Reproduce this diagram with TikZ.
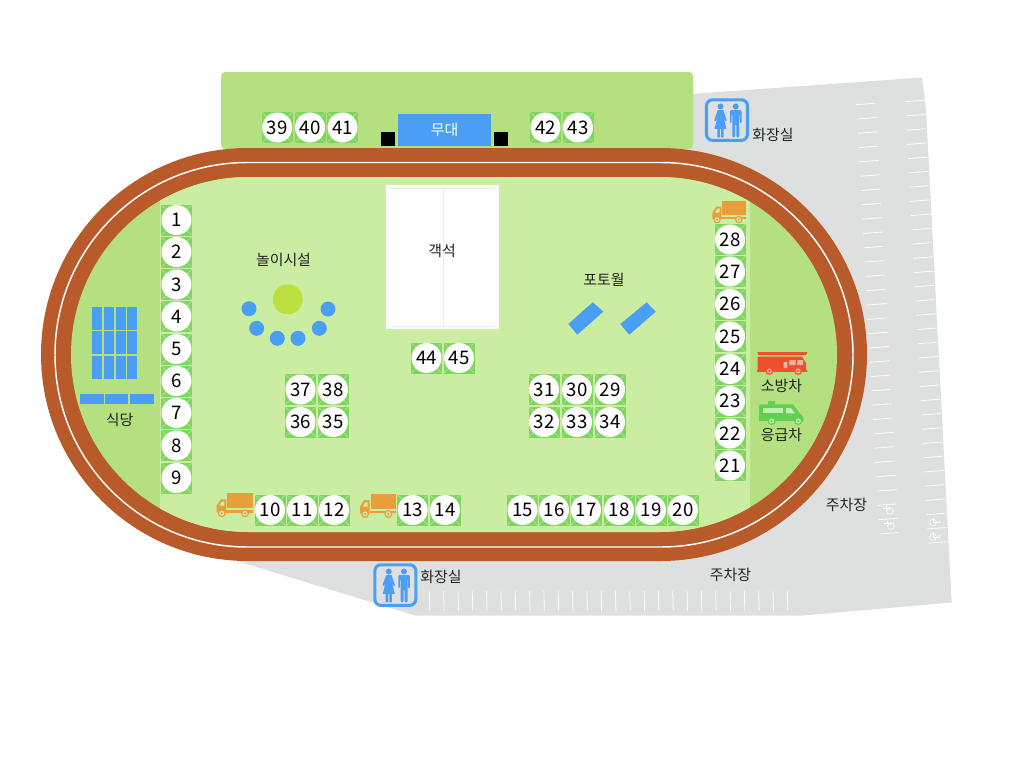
\documentclass[tikz,border=0pt]{standalone}
\usepackage{fontspec}
\setmainfont{Noto Sans CJK KR}
\definecolor{track}{HTML}{B85A2A}
\definecolor{fieldL}{HTML}{CBEDA2}
\definecolor{fieldD}{HTML}{B5E07F}
\definecolor{lot}{HTML}{DEE0E0}
\definecolor{seatG}{HTML}{7FD65E}
\definecolor{seatX}{HTML}{B5E8A0}
\definecolor{iconB}{HTML}{4A9FF5}
\definecolor{truckO}{HTML}{E89F3A}
\definecolor{fireR}{HTML}{EE4F2D}
\definecolor{ambG}{HTML}{5FD04F}
\definecolor{labelK}{HTML}{222222}
\definecolor{ballG}{HTML}{BCE03F}
\definecolor{paleF}{HTML}{F6B49E}
\definecolor{paleA}{HTML}{C4EDB4}
\tikzset{
  x=0.75pt,y=-0.75pt,
  numdisc/.style={circle,fill=white,minimum size=22.5pt,inner sep=0pt,font=\fontsize{14}{14}\selectfont,text=black},
  lab/.style={font=\fontsize{11.2}{11.2}\selectfont,text=labelK,inner sep=0pt},
  park/.style={white,line width=0.6pt,opacity=0.9},
  seatpic/.pic={
    \fill[seatG] (-15.5,-15.5) rectangle (15.5,15.5);
    \draw[seatX,line width=0.4pt] (-15.5,-15.5) -- (15.5,15.5) (-15.5,15.5) -- (15.5,-15.5);
  },
  truckpic/.pic={
    \fill[truckO] (0,0) rectangle (25.4,15);
    \fill[truckO] (-1,17) rectangle (25.4,19.3);
    \fill[truckO,even odd rule] (-1,19.3) -- (-10.6,19.3) -- (-10.6,12.5) -- (-6.5,6) -- (-1,6) -- cycle (-3,8) -- (-5.5,8) -- (-8,12.5) -- (-3,12.5) -- cycle;
    \foreach \wx in {-5.6,17.7}{
      \fill[truckO] (\wx,20) circle[radius=4];
      \fill[fieldL] (\wx,20) circle[radius=2.6];
      \fill[truckO] (\wx,20) circle[radius=1.2];
    }
  },
  wcleft/.pic={
    \draw[white,line width=0.45pt] (2,1) circle[radius=3.4];
    \draw[white,line width=0.45pt] (-5,-2) -- (1,-2) -- (1,0) (-2,-4) -- (-2,-2);
  },
  wcright/.pic={
    \draw[white,line width=0.45pt] (-1,0) circle[radius=3.4];
    \draw[white,line width=0.45pt] (-1,-5) -- (-1,0) -- (5,0) -- (5,-2);
  },
  toiletpic/.pic={
    \draw[iconB,line width=2.3pt,rounded corners=4.5pt] (1.5,1.5) rectangle (42.5,42);
    \fill[iconB] (15.5,8.2) circle[radius=3];
    \fill[iconB] (12.8,11.8) -- (18.2,11.8) -- (21.8,22) -- (20.2,22.7) -- (18.3,18) -- (21.5,30.5) -- (18.6,30.5) -- (18.6,39) -- (16,39) -- (16,30.5) -- (15,30.5) -- (15,39) -- (12.4,39) -- (12.4,30.5) -- (9.5,30.5) -- (12.7,18) -- (10.8,22.7) -- (9.2,22) -- cycle;
    \fill[iconB] (30.7,8.2) circle[radius=3];
    \fill[iconB,rounded corners=0.8pt] (25,11.8) -- (36.5,11.8) -- (36.5,25) -- (34.9,25) -- (34.9,16) -- (34.2,16) -- (34.2,39) -- (31.3,39) -- (31.3,26) -- (30.2,26) -- (30.2,39) -- (27.3,39) -- (27.3,16) -- (26.6,16) -- (26.6,25) -- (25,25) -- cycle;
  }
}
\begin{document}
\begin{tikzpicture}
\useasboundingbox (0,0) rectangle (1024,768);
\fill[white] (0,0) rectangle (1024,768);
% parking lot
\fill[lot] (237,561) -- (415,615.5) -- (803,615.5) -- (951.7,602.5) -- (926,110) -- (922,77.5) -- (690,94) -- (500,300) -- cycle;
% parking lines
\foreach \i in {0,...,30}{
  \pgfmathsetmacro{\ax}{856+0.7767*\i}
  \pgfmathsetmacro{\ay}{104.7+14.31*\i}
  \draw[park] (\ax,\ay) -- ++(19.6,-1.5);
}
\foreach \i in {0,...,31}{
  \pgfmathsetmacro{\ax}{905+0.742*\i}
  \pgfmathsetmacro{\ay}{101.7+14.24*\i}
  \draw[park] (\ax,\ay) -- ++(19.6,-1.5);
}
\foreach \i in {0,...,25}{
  \pgfmathsetmacro{\ax}{429.3+14.32*\i}
  \draw[park] (\ax,591) -- ({\ax+0.5},611);
}
\pic at (888,510) {wcleft};
\pic at (889,525) {wcleft};
\pic at (934,522.5) {wcright};
\pic at (934,537) {wcright};
% stage ground
\fill[fieldD,rounded corners=3pt] (221,72) rectangle (693,149);
% track
\fill[track] (247.5,148) arc[start angle=-90,end angle=-270,radius=206.5] -- (660.5,561) arc[start angle=90,end angle=-90,radius=206.5] -- cycle;
\draw[white,line width=1.1pt] (247.25,162.5) arc[start angle=-90,end angle=-270,radius=192.25] -- (660.75,547) arc[start angle=90,end angle=-90,radius=192.25] -- cycle;
\begin{scope}
  \clip (248.5,177) arc[start angle=-90,end angle=-270,radius=177.5] -- (659.5,532) arc[start angle=90,end angle=-90,radius=177.5] -- cycle;
  \fill[fieldD] (60,170) rectangle (850,540);
  \fill[fieldL] (160,170) rectangle (750,540);
\end{scope}
% stage
\fill[iconB] (398.3,114.3) rectangle (490.7,145.7);
\fill[black] (381.3,131.7) rectangle (395.3,145.7);
\fill[black] (493.7,131.7) rectangle (507.7,145.7);
\node[lab,text=white] (stage) at (444.5,130) {무대};
% audience
\fill[white] (386,184.7) rectangle (499,329);
\draw[black!8,line width=0.4pt] (443,188) -- (443,326) (390,188) -- (495,188) (391,326) -- (494,326);
\node[lab] (seats) at (442,250.5) {객석};
% photo wall
\fill[iconB] (592.7,302.3) -- (603.3,311.7) -- (577.3,334.7) -- (568.3,324) -- cycle;
\fill[iconB] (646.7,302.3) -- (655.7,311.7) -- (629.3,334.7) -- (620.3,324) -- cycle;
\node[lab] (photo) at (604,280) {포토월};
% playground
\node[lab] (play) at (283.5,260) {놀이시설};
\fill[ballG] (287.7,299.3) circle[radius=15];
\foreach \px/\py in {249/308.7,256.7/328.3,277.3/338.3,298/338.3,319.3/328.3,328/309}{
  \fill[iconB] (\px,\py) circle[radius=7.5];
}
% restaurant
\foreach \cx in {92,103.7,115.5,127.3}{
  \foreach \cy/\ch in {306.7/23.3,331/23.3,355.7/23.6}{
    \fill[iconB] (\cx,\cy) rectangle ++(10,\ch);
  }
}
\foreach \bx/\bw in {80/23.7,105/23.3,129.7/24}{
  \fill[iconB] (\bx,394) rectangle ++(\bw,10);
}
\node[lab] (food) at (119.5,420) {식당};
% trucks
\pic at (227.3,493.3) {truckpic};
\pic at (370.7,494) {truckpic};
\pic[scale=0.93] at (722.3,201) {truckpic};
% seats
\foreach \n/\sx/\sy in {
 1/176.5/220,2/176.5/252,3/176.5/284.5,4/176.5/316.5,5/176.5/349,6/176.5/381,7/176.5/413,8/176.5/445.5,9/176.5/478,
 10/270/510,11/302/510,12/334/510,13/412.7/510,14/445/510,
 15/522.5/510,16/554/510,17/586/510,18/619/510,19/651/510,20/683/510,
 21/730/465.5,22/730/433.5,23/730/401,24/730/369,25/730/336.5,26/730/304,27/730/271.5,28/730/239.5,
 29/610/389.5,30/577/389.5,31/544/389.5,32/544/422,33/577/422,34/610/422,
 35/333/422,36/300.5/422,37/300.5/389.5,38/333/389.5,
 39/277.2/127.5,40/310/127.5,41/342.5/127.5,42/545.5/127.5,43/578/127.5,
 44/426.5/358,45/459/358}{
  \pic at (\sx,\sy) {seatpic};
  \node[numdisc] (s\n) at (\sx,\sy) {\n};
}
% fire engine
\fill[fireR] (757.3,352) -- (807.3,352) -- (806,355.2) -- (758.5,355.2) -- cycle;
\fill[fireR] (757.7,356.7) -- (802,356.7) -- (806,363) -- (806,371) -- (757.7,371) -- cycle;
\fill[fireR] (756.5,369.5) rectangle (807.3,372);
\fill[paleF] (789.3,360) rectangle (795.5,365) (797.3,360) rectangle (803,365) (783.5,362) rectangle (787.3,368);
\fill[fireR] (769.3,371) circle[radius=4] (798,371) circle[radius=4];
\fill[paleF] (769.3,371) circle[radius=2.6] (798,371) circle[radius=2.6];
\fill[fireR] (769.3,371) circle[radius=1.2] (798,371) circle[radius=1.2];
\node[lab] (fire) at (781.5,385.5) {소방차};
% ambulance
\fill[ambG] (768,401) rectangle (775,405);
\fill[ambG] (761,404.3) -- (793,404.3) -- (801,415) -- (803.3,417) -- (803.3,421) -- (759,421) -- (759,406) -- cycle;
\fill[paleA] (762.7,408.3) rectangle (783.3,413.3);
\fill[paleA] (786,408) -- (791,408) -- (795,413.3) -- (786,413.3) -- cycle;
\fill[ambG] (771.7,421) circle[radius=4] (798.3,421) circle[radius=4];
\fill[paleA] (771.7,421) circle[radius=2.6] (798.3,421) circle[radius=2.6];
\fill[ambG] (771.7,421) circle[radius=1.2] (798.3,421) circle[radius=1.2];
\node[lab] (amb) at (781.5,434.5) {응급차};
% toilets
\pic at (705,98.3) {toiletpic};
\node[lab] (wc1) at (773,134.5) {화장실};
\pic at (373.3,563.3) {toiletpic};
\node[lab] (wc2) at (441,576.5) {화장실};
\node[lab] (pk1) at (846.5,505) {주차장};
\node[lab] (pk2) at (730.5,575) {주차장};
\end{tikzpicture}
\end{document}
